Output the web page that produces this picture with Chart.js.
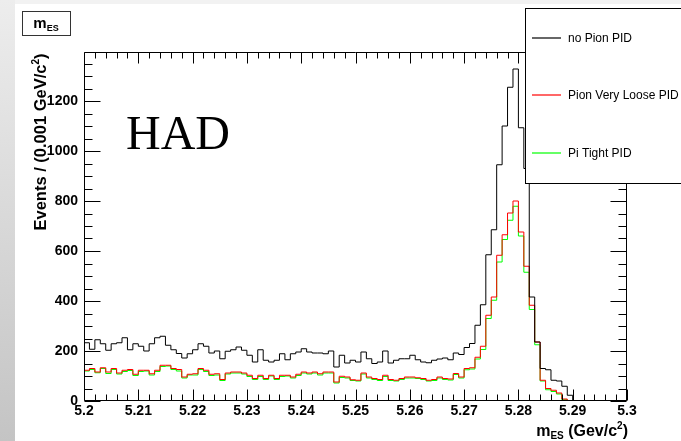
<!DOCTYPE html>
<html>
<head>
<meta charset="utf-8">
<script src="https://cdn.jsdelivr.net/npm/chart.js@4.4.1/dist/chart.umd.min.js"></script>
<style>
  html, body { margin: 0; padding: 0; background: #fff; }
  #grafico { display: block; }
</style>
</head>
<body>
<canvas id="grafico" width="681" height="441"></canvas>
<script>
// m_ES, 100 bins de 0.001 entre 5.2 e 5.3
const binInicio = 5.2;
const binLargura = 0.001;

const ticksX = [5.2, 5.21, 5.22, 5.23, 5.24, 5.25, 5.26, 5.27, 5.28, 5.29, 5.3];
const rotulosX = ["5.2", "5.21", "5.22", "5.23", "5.24", "5.25", "5.26", "5.27", "5.28", "5.29", "5.3"];
const ticksY = [0, 200, 400, 600, 800, 1000, 1200];

const semPionPid = [
  233, 207, 245, 229, 203, 229, 233, 253, 205, 229,
  219, 200, 229, 253, 259, 223, 205, 190, 172, 189,
  205, 229, 219, 192, 200, 169, 199, 205, 216, 203,
  183, 156, 205, 163, 156, 163, 189, 165, 189, 196,
  209, 196, 192, 192, 189, 200, 136, 183, 152, 163,
  156, 196, 169, 150, 156, 200, 152, 163, 169, 169,
  183, 165, 156, 153, 163, 168, 172, 165, 192, 186,
  214, 230, 303, 385, 585, 685, 945, 1100, 1255, 1328,
  1093, 930, 416, 236, 130, 125, 83, 80, 59, 23,
  0, 0, 0, 0, 0, 0, 0, 0, 0, 0
];

const pionVeryLoose = [
  123, 130, 116, 133, 116, 130, 112, 123, 126, 107,
  123, 123, 109, 123, 143, 143, 130, 126, 96, 107,
  109, 130, 123, 107, 109, 86, 112, 116, 116, 112,
  103, 90, 103, 90, 103, 90, 103, 103, 96, 107,
  116, 112, 116, 109, 116, 116, 76, 99, 96, 85,
  83, 112, 96, 90, 86, 103, 86, 83, 90, 96,
  96, 93, 90, 83, 86, 96, 90, 88, 110, 96,
  130, 133, 175, 219, 343, 416, 583, 665, 752, 800,
  676, 539, 383, 236, 83, 50, 43, 32, 8, 0,
  0, 0, 0, 0, 0, 0, 0, 0, 0, 0
];

const piTightPid = [
  120, 126, 113, 130, 110, 126, 108, 118, 122, 102,
  118, 120, 104, 118, 138, 140, 126, 120, 92, 104,
  104, 126, 118, 102, 104, 82, 108, 112, 112, 108,
  98, 86, 98, 86, 100, 86, 98, 100, 92, 102,
  112, 108, 112, 104, 112, 112, 72, 94, 92, 82,
  80, 108, 92, 86, 82, 98, 82, 80, 86, 92,
  92, 90, 86, 80, 82, 92, 86, 84, 106, 92,
  125, 128, 168, 206, 330, 403, 556, 646, 723, 779,
  660, 515, 366, 225, 80, 45, 38, 28, 5, 0,
  0, 0, 0, 0, 0, 0, 0, 0, 0, 0
];

const nomesSeries = ["no Pion PID", "Pion Very Loose PID", "Pi Tight PID"];
const coresSeries = ["#000000", "#ff0000", "#00ff00"];

const fonte = "'Liberation Sans', Arial, Helvetica, sans-serif";

function pontosHistograma(valores) {
  const pontos = valores.map((v, i) => ({ x: binInicio + i * binLargura, y: v }));
  pontos.push({ x: binInicio + valores.length * binLargura, y: valores[valores.length - 1] });
  return pontos;
}

// desenha pedaços de texto em sequência (para sub/sobrescritos)
function textoComposto(ctx, partes, x, y, alinhamento) {
  let largura = 0;
  partes.forEach(p => {
    ctx.font = p.font;
    largura += ctx.measureText(p.t).width;
  });
  let cx = x;
  if (alinhamento === "right") cx = x - largura;
  if (alinhamento === "center") cx = x - largura / 2;
  ctx.textAlign = "left";
  ctx.textBaseline = "alphabetic";
  partes.forEach(p => {
    ctx.font = p.font;
    ctx.fillText(p.t, cx, y + (p.dy || 0));
    cx += ctx.measureText(p.t).width;
  });
}

const molduraRoot = {
  id: "molduraRoot",
  beforeDraw(chart) {
    const ctx = chart.ctx;
    ctx.save();
    ctx.fillStyle = "#ffffff";
    ctx.fillRect(0, 0, chart.width, chart.height);
    const grad = ctx.createLinearGradient(0, 0, 0, chart.height);
    grad.addColorStop(0, "#ededed");
    grad.addColorStop(1, "#c4c4c4");
    ctx.fillStyle = grad;
    ctx.fillRect(0, 0, 15, chart.height);
    ctx.fillStyle = "#f2f2f2";
    ctx.fillRect(15, 0, chart.width, 4);
    ctx.restore();
  },
  afterDatasetsDraw(chart) {
    const { ctx, chartArea: a, scales: { x, y } } = chart;
    const esq = Math.round(a.left) + 0.5;
    const dir = Math.round(a.right) - 0.5;
    const topo = Math.round(a.top) + 0.5;
    const base = Math.round(a.bottom) - 0.5;

    ctx.save();
    ctx.strokeStyle = "#000";
    ctx.lineWidth = 1;
    ctx.beginPath();
    ctx.rect(esq, topo, dir - esq, base - topo);

    // ticks do eixo x: principais a cada 0.01, secundarios a cada 0.002
    for (let k = 0; k <= 50; k++) {
      const px = Math.round(x.getPixelForValue(binInicio + k * 0.002)) + 0.5;
      const tam = k % 5 === 0 ? 11 : 6;
      ctx.moveTo(px, base);
      ctx.lineTo(px, base - tam);
      ctx.moveTo(px, topo);
      ctx.lineTo(px, topo + tam);
    }

    // ticks do eixo y: principais a cada 200, secundarios a cada 50
    for (let k = 0; k * 50 <= y.max; k++) {
      const py = Math.round(y.getPixelForValue(k * 50)) + 0.5;
      const tam = k % 4 === 0 ? 16 : 8;
      ctx.moveTo(esq, py);
      ctx.lineTo(esq + tam, py);
      ctx.moveTo(dir, py);
      ctx.lineTo(dir - tam, py);
    }
    ctx.stroke();
    ctx.restore();
  },
  afterDraw(chart) {
    const ctx = chart.ctx;
    ctx.save();
    ctx.fillStyle = "#000";

    // caixa do titulo
    ctx.fillStyle = "#fff";
    ctx.fillRect(22, 11, 48, 24);
    ctx.strokeStyle = "#333";
    ctx.lineWidth = 1;
    ctx.strokeRect(22.5, 11.5, 48, 24);
    ctx.fillStyle = "#000";
    textoComposto(ctx, [
      { t: "m", font: `bold 15px ${fonte}` },
      { t: "ES", font: `bold 9px ${fonte}`, dy: 3 }
    ], 46, 28, "center");

    // HAD
    ctx.font = "48px 'Liberation Serif', 'Times New Roman', serif";
    ctx.textAlign = "left";
    ctx.textBaseline = "alphabetic";
    ctx.fillText("HAD", 126, 149);

    // titulo do eixo x
    textoComposto(ctx, [
      { t: "m", font: `bold 16px ${fonte}` },
      { t: "ES", font: `bold 10px ${fonte}`, dy: 3 },
      { t: " (Gev/c", font: `bold 16px ${fonte}` },
      { t: "2", font: `bold 10px ${fonte}`, dy: -7 },
      { t: ")", font: `bold 16px ${fonte}` }
    ], 628, 436, "right");

    // titulo do eixo y
    ctx.save();
    ctx.translate(46, 142);
    ctx.rotate(-Math.PI / 2);
    textoComposto(ctx, [
      { t: "Events / (0.001 GeV/c", font: `bold 16.5px ${fonte}` },
      { t: "2", font: `bold 10px ${fonte}`, dy: -7 },
      { t: ")", font: `bold 16.5px ${fonte}` }
    ], 0, 0, "center");
    ctx.restore();

    // legenda (opaca, por cima do histograma)
    ctx.fillStyle = "#fff";
    ctx.fillRect(525, 8, 200, 175);
    ctx.strokeStyle = "#000";
    ctx.lineWidth = 1;
    ctx.strokeRect(525.5, 8.5, 200, 175);
    const linhasY = [38, 95, 153];
    nomesSeries.forEach((nome, i) => {
      ctx.strokeStyle = coresSeries[i];
      ctx.lineWidth = 1.2;
      ctx.beginPath();
      ctx.moveTo(532, linhasY[i]);
      ctx.lineTo(561, linhasY[i]);
      ctx.stroke();
      ctx.fillStyle = "#000";
      ctx.font = `12px ${fonte}`;
      ctx.textAlign = "left";
      ctx.textBaseline = "middle";
      ctx.fillText(nome, 568, linhasY[i] + 1);
    });
    ctx.restore();
  }
};

function criarGrafico() {
  const ctx = document.getElementById("grafico").getContext("2d");

  const series = [semPionPid, pionVeryLoose, piTightPid];

  new Chart(ctx, {
    type: "line",
    data: {
      datasets: series.map((valores, i) => ({
        label: nomesSeries[i],
        data: pontosHistograma(valores),
        borderColor: coresSeries[i],
        borderWidth: 1,
        pointRadius: 0,
        fill: false,
        stepped: true,
        tension: 0
      }))
    },
    options: {
      responsive: false,
      animation: false,
      events: [],
      layout: {
        padding: { top: 52, right: 54, left: 0, bottom: 0 }
      },
      plugins: {
        legend: { display: false },
        tooltip: { enabled: false },
        title: { display: false }
      },
      scales: {
        x: {
          type: "linear",
          min: 5.2,
          max: 5.3,
          afterFit: s => { s.height = 40; },
          afterBuildTicks: s => { s.ticks = ticksX.map(value => ({ value })); },
          grid: { display: false, drawTicks: false },
          border: { display: false },
          ticks: {
            color: "#000",
            padding: 2,
            maxRotation: 0,
            autoSkip: false,
            font: { family: fonte, size: 14, weight: "bold" },
            callback: (v, i) => rotulosX[i]
          }
        },
        y: {
          type: "linear",
          min: 0,
          max: 1396,
          afterFit: s => { s.width = 84; },
          afterBuildTicks: s => { s.ticks = ticksY.map(value => ({ value })); },
          grid: { display: false, drawTicks: false },
          border: { display: false },
          ticks: {
            color: "#000",
            padding: 6,
            font: { family: fonte, size: 14, weight: "bold" },
            callback: v => String(v)
          }
        }
      }
    },
    plugins: [molduraRoot]
  });
}

criarGrafico();
</script>
</body>
</html>
